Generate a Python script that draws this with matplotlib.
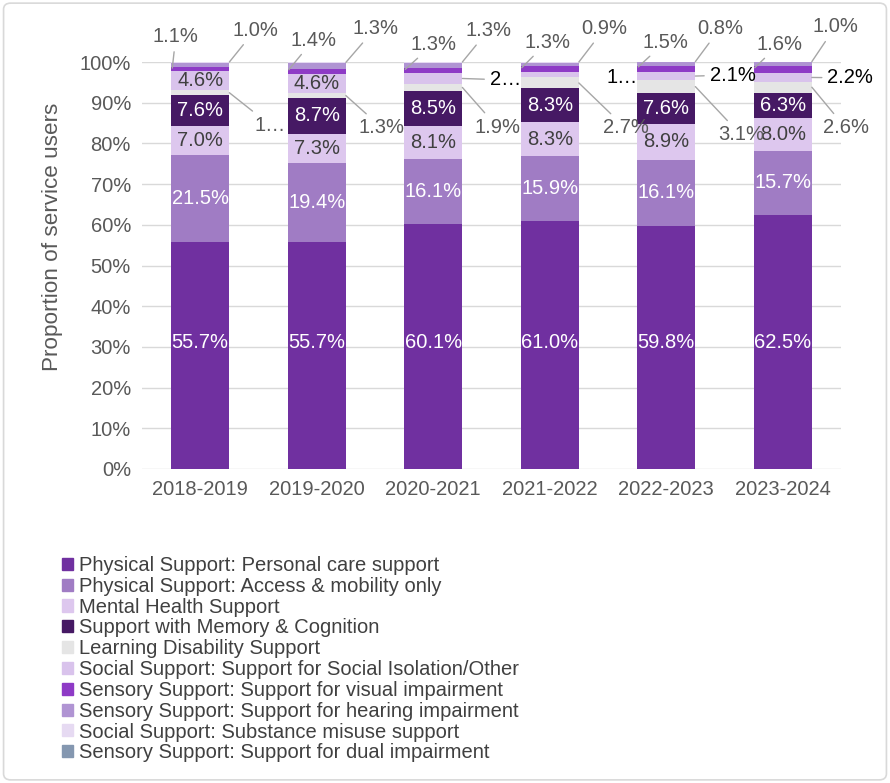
import matplotlib.pyplot as plt
import numpy as np
from matplotlib.patches import FancyBboxPatch

plt.rcParams['font.family'] = ['Liberation Sans', 'DejaVu Sans']

# Datos (porcentajes por año, de abajo hacia arriba en la barra)
anios = ['2018-2019', '2019-2020', '2020-2021', '2021-2022', '2022-2023', '2023-2024']
series = [
    'Physical Support: Personal care support',
    'Physical Support: Access & mobility only',
    'Mental Health Support',
    'Support with Memory & Cognition',
    'Learning Disability Support',
    'Social Support: Support for Social Isolation/Other',
    'Sensory Support: Support for visual impairment',
    'Sensory Support: Support for hearing impairment',
    'Social Support: Substance misuse support',
    'Sensory Support: Support for dual impairment',
]
personal_care = [55.7, 55.7, 60.1, 61.0, 59.8, 62.5]
access_mobility = [21.5, 19.4, 16.1, 15.9, 16.1, 15.7]
mental_health = [7.0, 7.3, 8.1, 8.3, 8.9, 8.0]
memory_cognition = [7.6, 8.7, 8.5, 8.3, 7.6, 6.3]
learning_disability = [1.3, 1.3, 1.9, 2.7, 3.1, 2.6]
social_isolation = [4.6, 4.6, 2.5, 1.4, 2.1, 2.2]
visual = [1.1, 1.4, 1.3, 1.3, 1.5, 1.6]
hearing = [1.0, 1.3, 1.3, 0.9, 0.8, 1.0]
substance = [0.1, 0.2, 0.1, 0.1, 0.1, 0.1]
dual = [0.1, 0.1, 0.1, 0.1, 0.1, 0.1]

valores = [personal_care, access_mobility, mental_health, memory_cognition,
           learning_disability, social_isolation, visual, hearing, substance, dual]
colores = ['#7030A0', '#A07CC4', '#DDC7EE', '#461964', '#E5E5E5',
           '#D9C3EC', '#8E3AC6', '#B094D3', '#E6DAF2', '#8497B0']

gris = '#595959'
fs = 14.5

fig = plt.figure(figsize=(8.9, 7.83), dpi=100)
ax = fig.add_axes([142 / 890, 1 - 469 / 783, 699 / 890, 407 / 783])

x = np.arange(len(anios))
base = np.zeros(len(anios))
tops = []
for vals, color in zip(valores, colores):
    v = np.array(vals) / 100
    ax.bar(x, v, bottom=base, width=0.5, color=color, zorder=2)
    base = base + v
    tops.append(base.copy())

# etiquetas dentro de las barras
def centro(k, i):
    inferior = tops[k - 1][i] if k > 0 else 0
    return (inferior + tops[k][i]) / 2

for i in x:
    ax.text(i, 0.31, f'{personal_care[i]:.1f}%', ha='center', va='center',
            color='white', fontsize=fs)
    ax.text(i, centro(1, i), f'{access_mobility[i]:.1f}%', ha='center', va='center',
            color='white', fontsize=fs)
    ax.text(i, centro(2, i), f'{mental_health[i]:.1f}%', ha='center', va='center',
            color='#404040', fontsize=fs)
    ax.text(i, centro(3, i), f'{memory_cognition[i]:.1f}%', ha='center', va='center',
            color='white', fontsize=fs)
    if social_isolation[i] > 4:
        ax.text(i, centro(5, i), f'{social_isolation[i]:.1f}%', ha='center', va='center',
                color='#404040', fontsize=fs)

# etiquetas con linea guia: posicion del texto por serie y año
leader = dict(arrowstyle='-', color='#A6A6A6', lw=1, shrinkA=2, shrinkB=0)
posiciones = {
    6: [(-0.21, 1.062), (-0.03, 1.054), (0.0, 1.044), (-0.02, 1.049), (-0.01, 1.049), (-0.03, 1.044)],
    7: [(0.47, 1.078), (0.50, 1.082), (0.47, 1.077), (0.47, 1.082), (0.46, 1.082), (0.45, 1.086)],
    4: [(0.60, 0.845), (0.56, 0.838), (0.55, 0.840), (0.65, 0.838), (0.64, 0.821), (0.54, 0.838)],
    5: [None, None, (0.62, 0.956), (0.62, 0.963), (0.57, 0.968), (0.58, 0.961)],
}
for k, lista in posiciones.items():
    for i, pos in enumerate(lista):
        if pos is None:
            continue
        val = valores[k][i]
        texto = f'{val:.1f}%'
        if (k == 4 and i == 0) or (k == 5 and i in (2, 3)):
            texto = texto[0] + '…'
        color = 'black' if k == 5 else gris
        if k == 6:
            punto = (i - 0.24, tops[k][i] - 0.003)
        elif k == 7:
            punto = (i + 0.25, tops[k][i] + 0.002)
        else:
            punto = (i + 0.25, centro(k, i))
        flecha = None if (k == 5 and i == 3) else leader
        ax.annotate(texto, xy=punto, xytext=(i + pos[0], pos[1]),
                    ha='center', va='center', color=color, fontsize=fs,
                    arrowprops=flecha, annotation_clip=False, zorder=3)

ax.set_xlim(-0.5, 5.5)
ax.set_ylim(0, 1)
ax.set_yticks(np.arange(0, 1.01, 0.1))
ax.set_yticklabels([f'{int(round(t * 100))}%' for t in np.arange(0, 1.01, 0.1)])
ax.set_xticks(x)
ax.set_xticklabels(anios)
ax.tick_params(axis='both', length=0, labelsize=fs, colors=gris)
ax.tick_params(axis='y', pad=8)
ax.tick_params(axis='x', pad=8)
ax.yaxis.grid(True, color='#D9D9D9', lw=1, zorder=0)
ax.set_axisbelow(True)
for s in ax.spines.values():
    s.set_visible(False)
ax.set_ylabel('Proportion of service users', fontsize=16.2, color=gris)
ax.yaxis.set_label_coords(-0.113, 0.57)

handles = [plt.Rectangle((0, 0), 1, 1, color=c) for c in colores]
fig.legend(handles, series, loc='upper left', bbox_to_anchor=(54 / 890, 1 - 548 / 783),
           frameon=False, fontsize=fs, labelcolor='#404040', handlelength=0.55,
           handleheight=0.55, handletextpad=0.3, labelspacing=0.09, borderaxespad=0)

borde = FancyBboxPatch((0.004, 0.004), 0.992, 0.992, boxstyle='round,pad=0,rounding_size=0.008',
                       transform=fig.transFigure, fill=False, edgecolor='#D9D9D9', lw=1.2)
fig.patches.append(borde)

fig.savefig('out.png', dpi=100)
